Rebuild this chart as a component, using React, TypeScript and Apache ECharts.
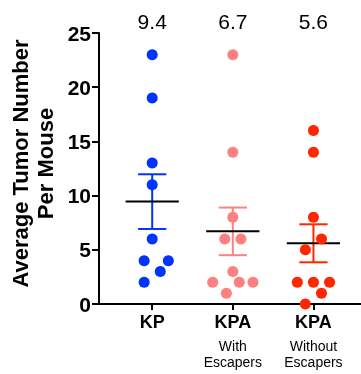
import React, { useEffect, useRef } from "react";
import * as echarts from "echarts";

const categories = ["KP", "KPA", "KPA"];
const subLabels = ["", "With\nEscapers", "Without\nEscapers"];
const colors = ["#0033FF", "#FF8080", "#FF2600"];

const kpValues = [23, 19, 13, 11, 6, 4, 4, 3, 2];
const kpJitter = [0, 0, 0, 0, 0, -0.1, 0.2, 0.1, -0.1];
const kpaWithValues = [23, 14, 8, 6, 6, 3, 2, 2, 2, 1];
const kpaWithJitter = [0, 0, 0, -0.1, 0.1, 0, -0.25, 0.08, 0.25, -0.08];
const kpaWithoutValues = [16, 14, 8, 6, 5, 2, 2, 2, 1, 0];
const kpaWithoutJitter = [0, 0, 0, 0.1, -0.1, -0.2, 0, 0.2, 0.1, -0.1];

const yTicks = [0, 5, 10, 15, 20, 25];

const groups = [
  { values: kpValues, jitter: kpJitter },
  { values: kpaWithValues, jitter: kpaWithJitter },
  { values: kpaWithoutValues, jitter: kpaWithoutJitter },
];

function stats(v: number[]) {
  const n = v.length;
  const mean = v.reduce((a, b) => a + b, 0) / n;
  const sd = Math.sqrt(v.reduce((a, b) => a + (b - mean) ** 2, 0) / (n - 1));
  return { mean, sem: sd / Math.sqrt(n) };
}

const FONT = "'Liberation Sans', Arial, Helvetica, sans-serif";

export default function App() {
  const ref = useRef<HTMLDivElement>(null);
  useEffect(() => {
    if (!ref.current) return;
    const chart = echarts.init(ref.current, undefined, { renderer: "svg" });

    const summary = groups.map((g, i) => {
      const s = stats(g.values);
      return [i + 1, s.mean, s.sem, i];
    });

    const scatterSeries = groups.map((g, i) => ({
      type: "scatter",
      symbolSize: 11,
      z: 5,
      clip: false,
      itemStyle: { color: colors[i], opacity: 1 },
      data: g.values.map((v, j) => [i + 1 + g.jitter[j], v]),
    }));

    const option: any = {
      animation: false,
      grid: {
        left: 99,
        right: 0,
        top: 33,
        bottom: 70,
        containLabel: false,
        outerBoundsMode: "none",
      },
      xAxis: {
        type: "value",
        min: 0.34,
        max: 3.59,
        splitLine: { show: false },
        axisLine: { show: true, onZero: false, lineStyle: { color: "#000", width: 2 } },
        axisTick: {
          show: true,
          customValues: [1, 2, 3],
          length: 6,
          inside: false,
          lineStyle: { color: "#000", width: 2 },
        },
        axisLabel: {
          customValues: [1, 2, 3],
          margin: 1,
          formatter: (val: number) => {
            const i = Math.round(val) - 1;
            const sub = subLabels[i];
            let s = "{b|" + categories[i] + "}";
            if (sub) s += "\n" + sub.split("\n").map((t) => "{s|" + t + "}").join("\n");
            return s;
          },
          rich: {
            b: { fontFamily: FONT, fontWeight: "bold", fontSize: 18, lineHeight: 33, color: "#000" },
            s: { fontFamily: FONT, fontSize: 14, lineHeight: 16, color: "#000" },
          },
        },
      },
      yAxis: {
        type: "value",
        min: 0,
        max: 25,
        interval: 5,
        splitLine: { show: false },
        name: "Average Tumor Number\nPer Mouse",
        nameLocation: "middle",
        nameRotate: 90,
        nameGap: 41,
        nameMoveOverlap: false,
        nameTextStyle: {
          fontFamily: FONT,
          fontWeight: "bold",
          fontSize: 22,
          lineHeight: 25,
          color: "#000",
          padding: [0, 0, 0, 10],
        },
        axisLine: { show: true, lineStyle: { color: "#000", width: 2 } },
        axisTick: { show: true, length: 7, lineStyle: { color: "#000", width: 2 } },
        axisLabel: {
          margin: 8,
          fontFamily: FONT,
          fontWeight: "bold",
          fontSize: 21,
          color: "#000",
          formatter: (v: number) => (yTicks.includes(v) ? String(v) : ""),
        },
      },
      series: [
        {
          type: "custom",
          clip: false,
          z: 3,
          data: summary,
          renderItem: (params: any, api: any) => {
            const x = api.value(0);
            const m = api.value(1);
            const se = api.value(2);
            const ci = api.value(3);
            const c = colors[ci];
            const pm1 = api.coord([x - 0.33, m]);
            const pm2 = api.coord([x + 0.33, m]);
            const top = api.coord([x, m + se]);
            const bot = api.coord([x, m - se]);
            const ct1 = api.coord([x - 0.175, m + se]);
            const ct2 = api.coord([x + 0.175, m + se]);
            const cb1 = api.coord([x - 0.175, m - se]);
            const cb2 = api.coord([x + 0.175, m - se]);
            const lbl = api.coord([x, 26.1]);
            const ls = { stroke: c, lineWidth: 2 };
            return {
              type: "group",
              children: [
                { type: "line", shape: { x1: top[0], y1: top[1], x2: bot[0], y2: bot[1] }, style: ls },
                { type: "line", shape: { x1: ct1[0], y1: ct1[1], x2: ct2[0], y2: ct2[1] }, style: ls },
                { type: "line", shape: { x1: cb1[0], y1: cb1[1], x2: cb2[0], y2: cb2[1] }, style: ls },
                {
                  type: "line",
                  shape: { x1: pm1[0], y1: pm1[1], x2: pm2[0], y2: pm2[1] },
                  style: { stroke: "#000", lineWidth: 2 },
                },
                {
                  type: "text",
                  x: lbl[0],
                  y: lbl[1],
                  style: {
                    text: m.toFixed(1),
                    fill: "#000",
                    fontFamily: FONT,
                    fontSize: 21,
                    align: "center",
                    verticalAlign: "middle",
                  },
                },
              ],
            };
          },
        },
        ...scatterSeries,
      ],
    };
    chart.setOption(option);
    return () => chart.dispose();
  }, []);
  return (
    <div
      ref={ref}
      style={{ position: "fixed", left: 0, top: 0, width: 361, height: 374 }}
    />
  );
}
